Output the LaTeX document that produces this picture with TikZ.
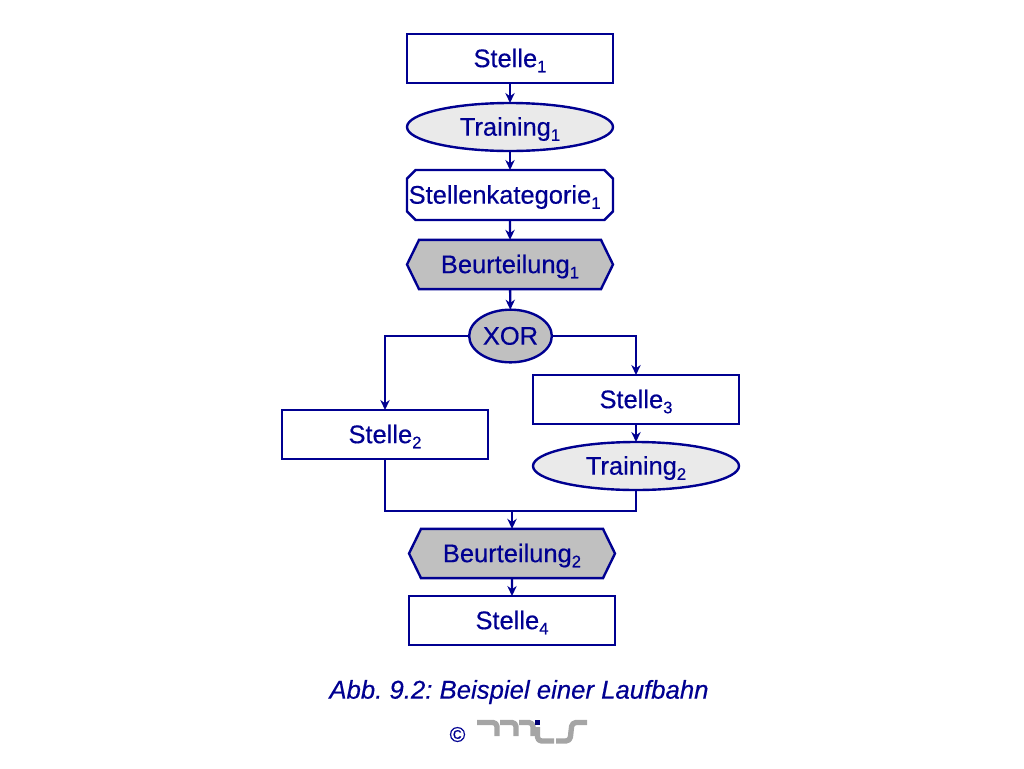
\documentclass[tikz,border=0pt]{standalone}
\usepackage{fontspec}
\setmainfont{Liberation Sans}
\newfontfamily\labelfont[FakeBold=0.4]{Liberation Sans}
\newfontfamily\capfont[FakeBold=0.4]{Liberation Sans Italic}
\usetikzlibrary{shapes.geometric,shapes.misc,shapes.symbols,arrows.meta}
\definecolor{navy}{RGB}{0,0,145}
\definecolor{lightfill}{RGB}{234,234,234}
\definecolor{midfill}{RGB}{192,192,192}
\definecolor{pipe}{RGB}{165,165,165}
\newcommand{\subs}[1]{\raisebox{-0.2em}{\fontsize{12.5}{14}\selectfont #1}}
\tikzset{
  base/.style={draw=navy,line width=1.8pt,text=navy,font=\labelfont\fontsize{19.1}{22}\selectfont,inner sep=0pt,outer sep=0pt,text depth=3pt,text height=16pt},
  boxnode/.style={base,rectangle,minimum width=154.5pt,minimum height=36.75pt},
  ovalnode/.style={base,ellipse,fill=lightfill,minimum width=154.5pt,minimum height=36pt},
  catnode/.style={base,chamfered rectangle,chamfered rectangle xsep=6.5pt,chamfered rectangle ysep=6.5pt,minimum width=154.5pt,minimum height=37.5pt},
  hexnode/.style={base,signal,signal to=west and east,signal pointer angle=128,fill=midfill,minimum width=154.5pt,minimum height=37pt},
  xornode/.style={base,ellipse,fill=midfill,minimum width=62pt,minimum height=39.5pt},
  conn/.style={draw=navy,line width=1.8pt,-{Stealth[length=7.5pt,width=7pt]}},
  plainconn/.style={draw=navy,line width=1.8pt},
  pipeline/.style={draw=pipe,line width=4pt,line join=round,rounded corners=3pt},
}
\begin{document}
\begin{tikzpicture}[x=0.75pt,y=-0.75pt]
\useasboundingbox (0,0) rectangle (1024,768);
\node[boxnode] (s1) at (510,58.5) {Stelle\subs{1}};
\node[ovalnode] (t1) at (510,127) {Training\subs{1}};
\node[catnode] (k1) at (510,195) {\makebox[0pt][l]{\hspace{-76pt}Stellenkategorie\subs{1}}};
\node[hexnode] (b1) at (510,264.5) {Beurteilung\subs{1}};
\node[xornode] (x) at (510.5,336) {XOR};
\node[boxnode] (s3) at (636,399.5) {Stelle\subs{3}};
\node[ovalnode] (t2) at (636,466) {Training\subs{2}};
\node[boxnode] (s2) at (385,434.5) {Stelle\subs{2}};
\node[hexnode] (b2) at (512,553.5) {Beurteilung\subs{2}};
\node[boxnode] (s4) at (512,620.5) {Stelle\subs{4}};
\coordinate (j) at (512,511);
\draw[conn] (s1) -- (t1);
\draw[conn] (t1) -- (k1);
\draw[conn] (k1) -- (b1);
\draw[conn] (b1) -- (x);
\draw[conn] (x.west) -| (s2.north);
\draw[conn] (x.east) -| (s3.north);
\draw[conn] (s3) -- (t2);
\draw[plainconn] (s2.south) |- (j);
\draw[plainconn] (t2.south) |- (j);
\draw[conn] (j) -- (b2.north);
\draw[conn] (b2) -- (s4);
\node[text=navy,font=\capfont\fontsize{19.3}{22}\selectfont,inner sep=0pt] (cap) at (519,692) {\frenchspacing Abb. 9.2: Beispiel einer Laufbahn};
\node[text=navy,font=\labelfont\fontsize{16}{18}\selectfont,inner sep=0pt] (c) at (457.5,734.5) {©};
% logo
\draw[pipeline] (477,722.5) -- (497,722.5) -- (497,736);
\draw[pipeline] (500,722.5) -- (516,722.5) -- (516,736);
\draw[pipeline] (519,722.5) -- (533,722.5) -- (533,736);
\draw[pipeline] (537.5,727) -- (537.5,741) -- (554,741);
\draw[pipeline] (556,741) -- (570,741) -- (572,722.5) -- (587,722.5);
\fill[navy!80!black] (535,720) rectangle (540,725);
\end{tikzpicture}
\end{document}
